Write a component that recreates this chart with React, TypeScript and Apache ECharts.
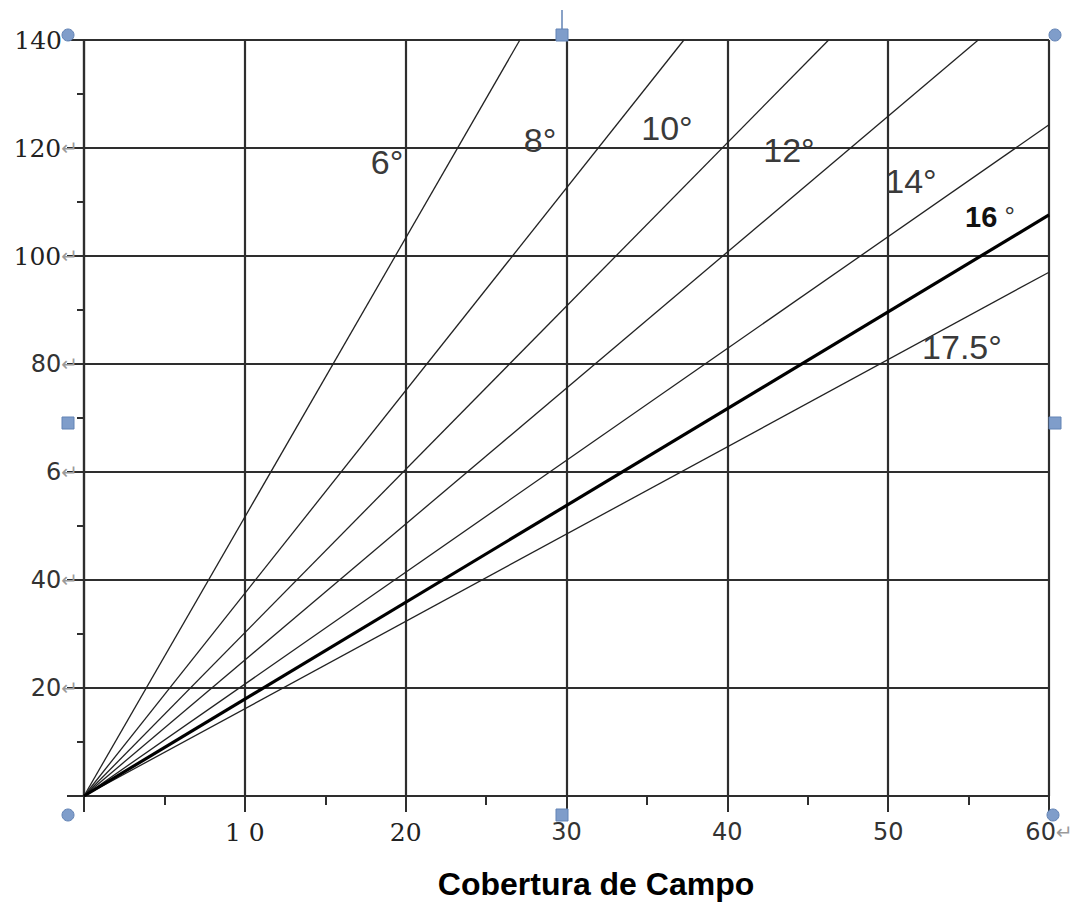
import React, { useEffect, useRef } from "react";
import * as echarts from "echarts";

const angleLabels = ["6°", "8°", "10°", "12°", "14°", "16°", "17.5°"];
const endX = [27.1, 37.3, 46.3, 55.6, 60, 60, 60];
const endY = [140, 140, 140, 140, 124.3, 107.6, 97.0];
const xTickLabels: Record<number, string> = {
  10: "{s|1 0}",
  20: "{s|20}",
  30: "{a|30}",
  40: "{a|40}",
  50: "{a|50}",
  60: "{a|60}{r|↵}",
};
const yTickLabels: Record<number, string> = {
  20: "{a|20}{r|↵}",
  40: "{a|40}{r|↵}",
  60: "{a|6}{r|↵}",
  80: "{a|80}{r|↵}",
  100: "{s|100}{r|↵}",
  120: "{s|120}{r|↵}",
  140: "{s|140}{g| }",
};
const titleText = "Cobertura de Campo";

const rich = {
  s: { fontFamily: "DejaVu Serif", fontSize: 25, color: "#222" },
  a: { fontFamily: "DejaVu Sans", fontSize: 24, color: "#333" },
  r: { fontFamily: "DejaVu Sans", fontSize: 20, color: "#9a9a9a" },
  g: { fontSize: 11, width: 16 },
};

export default function App() {
  const ref = useRef<HTMLDivElement>(null);
  useEffect(() => {
    document.body.style.margin = "0";
    const chart = echarts.init(ref.current!, undefined, { renderer: "svg" });
    const gridColor = "#2e2e2e";
    const series = angleLabels.map((name, i) => ({
      name,
      type: "line",
      data: [
        [0, 0],
        [endX[i], endY[i]],
      ],
      symbol: "none",
      showSymbol: false,
      silent: true,
      z: name === "16°" ? 5 : 3,
      lineStyle: {
        color: name === "16°" ? "#000" : "#222",
        width: name === "16°" ? 3.2 : 1.3,
      },
    }));

    const labelPos: [number, number][] = [
      [387, 162],
      [540, 140],
      [667, 128],
      [789, 150],
      [911, 181],
      [990, 217],
      [962, 347],
    ];
    const texts = angleLabels.map((t, i) => {
      const bold = t === "16°";
      return {
        type: "text",
        x: labelPos[i][0],
        y: labelPos[i][1],
        z: 10,
        style: bold
          ? {
              text: "{b|16}{d| °}",
              rich: {
                b: { fontFamily: "Liberation Sans", fontSize: 29, fontWeight: "bold", fill: "#111" },
                d: { fontFamily: "Liberation Sans", fontSize: 26, fill: "#333", verticalAlign: "top" },
              },
              align: "center",
              verticalAlign: "middle",
            }
          : {
              text: t,
              fontFamily: "Liberation Sans",
              fontSize: 34,
              fill: "#3a3a3a",
              align: "center",
              verticalAlign: "middle",
            },
      };
    });

    const handleColor = "#7f9dca";
    const handleStroke = "#6283b5";
    const circles = [
      [68, 35],
      [1055, 35],
      [68, 815],
      [1053, 815],
    ].map(([cx, cy]) => ({
      type: "circle",
      z: 20,
      shape: { cx, cy, r: 6 },
      style: { fill: handleColor, stroke: handleStroke, lineWidth: 1 },
    }));
    const squares = [
      [562, 35],
      [68, 423],
      [1055, 423],
      [562, 815],
    ].map(([cx, cy]) => ({
      type: "rect",
      z: 20,
      shape: { x: cx - 6, y: cy - 6, width: 12, height: 12 },
      style: { fill: handleColor, stroke: handleStroke, lineWidth: 1 },
    }));

    chart.setOption({
      animation: false,
      backgroundColor: "#fff",
      grid: { left: 84, right: 28, top: 40, bottom: 106, containLabel: false, outerBoundsMode: "none" },
      xAxis: {
        type: "value",
        min: 0,
        max: 60,
        interval: 10,
        axisLine: { show: true, onZero: false, lineStyle: { color: gridColor, width: 2.2 } },
        axisTick: { show: true, length: 16, lineStyle: { color: gridColor, width: 2 } },
        minorTick: { show: true, splitNumber: 2, length: 9, lineStyle: { color: gridColor, width: 2 } },
        splitLine: { show: true, lineStyle: { color: gridColor, width: 2.2 } },
        axisLabel: {
          margin: 24,
          formatter: (v: number) => xTickLabels[v] ?? "",
          rich,
        },
      },
      yAxis: {
        type: "value",
        min: 0,
        max: 140,
        interval: 20,
        axisLine: { show: true, onZero: false, lineStyle: { color: gridColor, width: 2.2 } },
        axisTick: { show: true, length: 17, lineStyle: { color: gridColor, width: 2 } },
        minorTick: { show: true, splitNumber: 2, length: 7, lineStyle: { color: gridColor, width: 2 } },
        splitLine: { show: true, lineStyle: { color: gridColor, width: 2.2 } },
        axisLabel: {
          margin: 6,
          formatter: (v: number) => yTickLabels[v] ?? "",
          rich,
        },
      },
      series,
      graphic: [
        ...texts,
        {
          type: "text",
          x: 596,
          y: 884,
          z: 10,
          style: {
            text: titleText,
            fontFamily: "Liberation Sans",
            fontWeight: "bold",
            fontSize: 32,
            fill: "#000",
            align: "center",
            verticalAlign: "middle",
          },
        },
        {
          type: "line",
          z: 19,
          shape: { x1: 562, y1: 10, x2: 562, y2: 30 },
          style: { stroke: handleStroke, lineWidth: 1.5 },
        },
        ...circles,
        ...squares,
      ],
    });
    return () => chart.dispose();
  }, []);
  return <div ref={ref} style={{ width: 1077, height: 902 }} />;
}
